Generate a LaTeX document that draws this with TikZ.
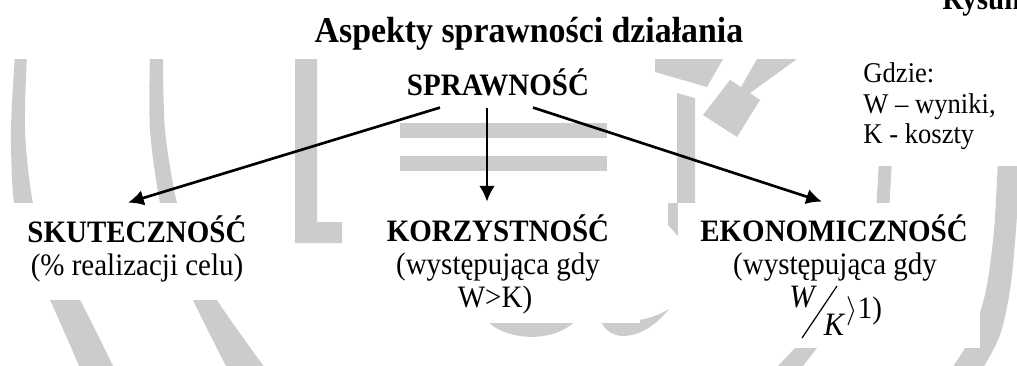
\documentclass[tikz,border=0pt]{standalone}
\usepackage{fontspec}
\setmainfont{Liberation Serif}[FakeStretch=0.93]
\usetikzlibrary{arrows.meta,calc}
\definecolor{wmgray}{HTML}{CCCCCC}
\begin{document}
\begin{tikzpicture}[x=0.41379pt,y=-0.41379pt,
  wm/.style={fill=wmgray},
  conn/.style={line width=1.1pt,-{Latex[length=6.5pt,width=6.5pt]}},
  ttl/.style={font=\fontsize{15.05}{17}\selectfont\bfseries,inner sep=0pt,anchor=base},
  root/.style={font=\fontsize{12.9}{15}\selectfont\bfseries,inner sep=0pt,text depth=5pt,anchor=base},
  head/.style={font=\fontsize{12.9}{15}\selectfont\bfseries,inner sep=0pt,text height=16.1pt,text depth=0pt,anchor=base},
  body/.style={font=\fontsize{12.9}{15}\selectfont,inner sep=0pt,anchor=base},
  note/.style={font=\fontsize{11.83}{14}\selectfont,inner sep=0pt,anchor=base west},
]
\useasboundingbox (0,0) rectangle (1017,365);
\clip (0,0) rectangle (1017,365);
\fill[white] (0,0) rectangle (1017,365);

% ---- watermark ----
\fill[wm] plot[smooth] coordinates {(15,55) (11,130) (14,203) (28,258) (50,300) (80,368)}
  -- plot[smooth] coordinates {(114,368) (80,300) (53,258) (33,203) (25,130) (27,55)} -- cycle;
\fill[wm] plot[smooth] coordinates {(150,55) (150,130) (160,203) (175,255) (193,300) (227,368)}
  -- plot[smooth] coordinates {(265,368) (217,300) (196,255) (177,203) (165,130) (163,55)} -- cycle;
\fill[wm] (295,59) -- (317,59) -- (317,222) -- (342,222) -- (342,243) -- (295,243) -- cycle;
\fill[wm] (400,123) rectangle (607,138);
\fill[wm] (400,156) rectangle (607,171);
\fill[wm] (485,318) .. controls (500,340) and (555,346) .. (578,318) -- cycle;
\fill[wm] (600,318) .. controls (608,346) and (645,340) .. (669,309) .. controls (650,321) and (625,324) .. (600,318) -- cycle;
\fill[wm] (655,59) -- (723,59) -- (707,87) -- (655,72) -- cycle;
\fill[wm] (677,93) -- (695,98) -- (695,236) -- (678,236) -- (668,225) -- (668,203) -- (677,203) -- cycle;
\fill[wm] (757,59) -- (797,59) -- (750,93) -- (760,100) -- (737,137) -- (703,115) -- (730,80) -- (741,87) -- cycle;
\fill[wm] (879,160) -- (892,160) -- (889,212) -- (876,212) -- cycle;
\fill[wm] plot[smooth] coordinates {(998,160) (994,230) (986,290) (972,335) (952,368)}
  -- plot[smooth] coordinates {(983,368) (1000,335) (1010,290) (1016,230) (1020,160)} -- cycle;
\fill[wm] (795,348) -- (817,348) -- (803,366) -- (778,366) -- cycle;

% ---- white text frames ----
\fill[white] (0,0) rectangle (1017,59);
\fill[white] (0,203) rectangle (292,300);
\fill[white] (345,195) rectangle (640,323);
\fill[white] (678,203) rectangle (980,348);
\fill[white] (850,59) rectangle (1017,166);

% ---- texts ----
\node[head,anchor=base west] (rys) at (942,9) {Rysunek};
\node[ttl] (title) at (529,42) {Aspekty sprawności działania};
\node[root] (spr) at (498,95) {SPRAWNOŚĆ};

\node[head] (sku) at (137,242) {SKUTECZNOŚĆ};
\node[body] (sku2) at (137,275) {(\% realizacji celu)};

\node[head] (kor) at (498,241) {KORZYSTNOŚĆ};
\node[body] (kor2) at (498,274) {(występująca gdy};
\node[body] (kor3) at (495,307) {W>K)};

\node[head] (eko) at (834,241) {EKONOMICZNOŚĆ};
\node[body] (eko2) at (835,274) {(występująca gdy};
\node[body,font=\fontsize{13.5}{15}\selectfont\itshape] (fw) at (802,307) {W};
\node[body,font=\fontsize{13.5}{15}\selectfont\itshape] (fk) at (834,335) {K};
\draw[line width=0.5pt] (802,338) -- (837,286);
\node[body,anchor=base west] (fr) at (846,318) {$\rangle$1)};

\node[note] (g1) at (863,82) {Gdzie:};
\node[note] (g2) at (863,113) {W – wyniki,};
\node[note] (g3) at (863,143) {K - koszty};

% ---- connectors ----
\draw[conn] ([xshift=-24pt]spr.south) -- ([xshift=-3.7pt]sku.north);
\draw[conn] ([xshift=-4.55pt]spr.south) -- ([xshift=-4.55pt]kor.north);
\draw[conn] ([xshift=14.5pt]spr.south) -- ([xshift=-5pt]eko.north);
\end{tikzpicture}
\end{document}
